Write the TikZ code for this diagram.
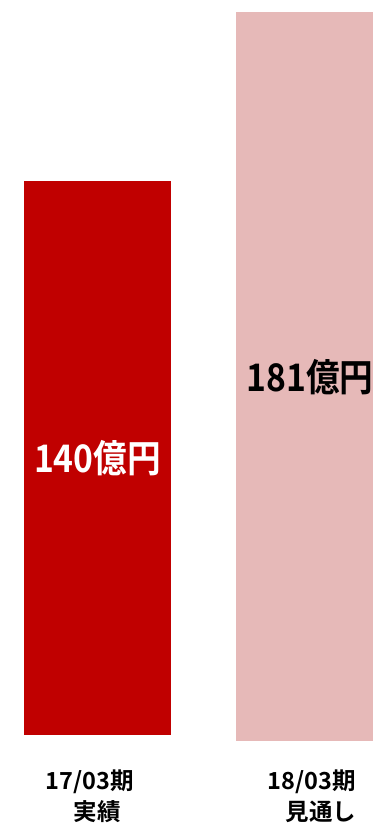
\documentclass[tikz,border=0pt]{standalone}
\usepackage{fontspec}
\newfontfamily\jpfont{Noto Sans CJK JP}[BoldFont={* Bold}]
\definecolor{barA}{HTML}{C00000}
\definecolor{barB}{HTML}{E6B9B8}
\newcommand{\tallbox}[1]{\scalebox{1.02}[1.15]{#1}}
\begin{document}
\begin{tikzpicture}[x=1pt,y=-1pt,
  val/.style={font=\jpfont\bfseries\fontsize{33}{36}\selectfont,inner sep=0pt},
  cat/.style={font=\jpfont\bfseries\fontsize{23.5}{27}\selectfont,inner sep=0pt,align=center}]
\useasboundingbox (0,0) rectangle (373,825);
\fill[barA] (24,181) rectangle (171,735);
\fill[barB] (236,12) rectangle (373,741);
\node[val,text=white] (v1) at (97.5,458) {\tallbox{140億円}};
\node[val,text=black] (v2) at (310,377) {\tallbox{181億円}};
\node[cat] (c1a) at (90,782) {17/03期};
\node[cat] (c1b) at (97,812) {実績};
\node[cat] (c2a) at (312,782) {18/03期};
\node[cat] (c2b) at (321,812) {見通し};
\end{tikzpicture}
\end{document}
